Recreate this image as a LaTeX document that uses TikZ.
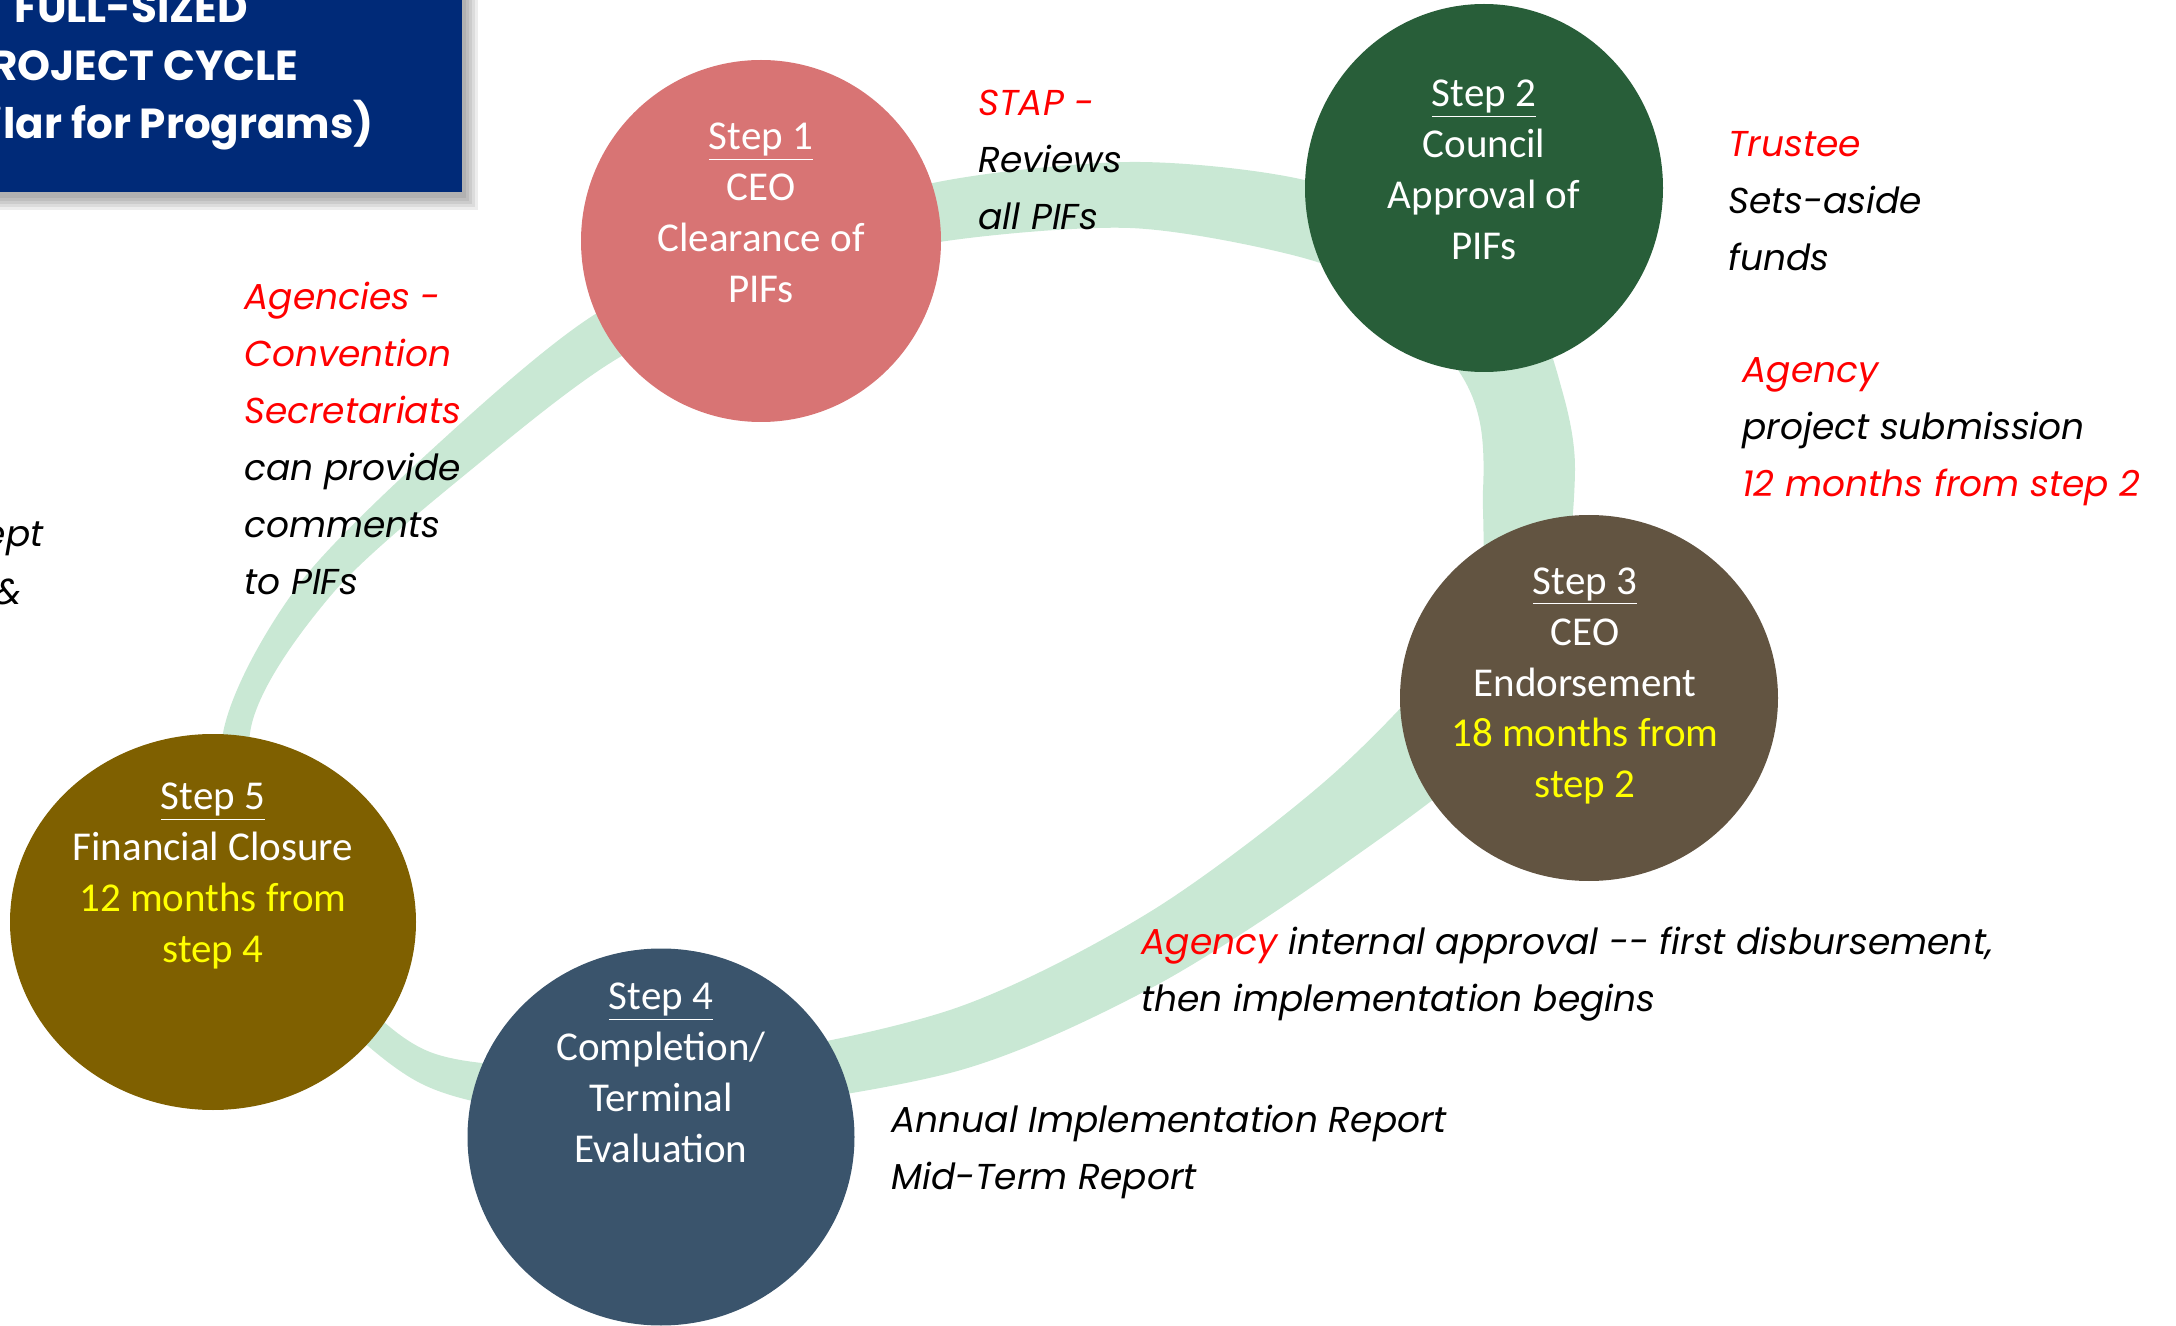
\documentclass[tikz,border=0pt]{standalone}
\usepackage{fontspec}
\setmainfont{Carlito}
\newfontfamily\notefont{Poppins}
\usetikzlibrary{shapes.geometric}
\definecolor{ringgreen}{RGB}{201,232,212}
\definecolor{stepone}{RGB}{216,116,116}
\definecolor{steptwo}{RGB}{40,94,57}
\definecolor{stepthree}{RGB}{98,84,65}
\definecolor{stepfour}{RGB}{58,84,108}
\definecolor{stepfive}{RGB}{127,96,0}
\definecolor{titleblue}{RGB}{0,42,120}
\definecolor{notered}{RGB}{255,0,0}
\definecolor{noteyellow}{RGB}{255,255,0}
\begin{document}
\begin{tikzpicture}[x=0.5pt, y=-0.5pt,
    stepcirc/.style={ellipse, inner sep=0pt},
    steptext/.style={align=center, inner sep=0pt, text=white, font=\fontsize{20.5}{25.5}\selectfont},
    note/.style={align=left, anchor=north west, inner sep=0pt, font=\notefont\itshape\fontsize{18}{28.5}\selectfont},
    titlebox/.style={fill=titleblue, text=white, align=center, inner sep=0pt, font=\notefont\bfseries\fontsize{21}{29}\selectfont}]
    \path[use as bounding box] (0,0) rectangle (2176,1326);
    \clip (0,0) rectangle (2176,1326);
    % Title
    \foreach \b in {0,3,...,12}
      \fill[black, opacity=0.07] (-200,-62) rectangle (466+\b,198+\b);
    \fill[titleblue] (-200,-62) rectangle (462,192);
    \node (title) [titlebox, fill=none] at (131,71) {FULL-SIZED\\PROJECT CYCLE\\(Similar for Programs)};
    % Ring
    \fill[ringgreen, even odd rule]
      plot[smooth cycle] coordinates {(597,313) (760,240) (933,183) (1130,162) (1300,179) (1440,230) (1530,310) (1562,390) (1575,470) (1560,600) (1500,740) (1340,867) (1153,987) (950,1073) (660,1115) (420,1083) (240,900) (223,733) (300,583) (450,433)}
      plot[smooth cycle] coordinates {(620,357) (780,285) (933,243) (1130,228) (1300,257) (1400,300) (1460,373) (1480,423) (1483,490) (1470,620) (1340,768) (1153,910) (950,1010) (700,1060) (430,1052) (290,900) (250,733) (333,593) (483,460)};
    % Steps
    \node (step1) [stepcirc, fill=stepone, minimum width=180pt, minimum height=181pt] at (761,241) {};
    \node (step2) [stepcirc, fill=steptwo, minimum width=179pt, minimum height=184pt] at (1484,188) {};
    \node (step3) [stepcirc, fill=stepthree, minimum width=189pt, minimum height=183pt] at (1589,698) {};
    \node (step4) [stepcirc, fill=stepfour, minimum width=193.5pt, minimum height=188.5pt] at (661,1137) {};
    \node (step5) [stepcirc, fill=stepfive, minimum width=203pt, minimum height=188pt] at (213,922) {};
    \node (step1text) [steptext] at ([yshift=14pt]step1.center) {\underline{Step 1}\\CEO\\Clearance of\\PIFs};
    \node (step2text) [steptext] at ([yshift=9pt]step2.center) {\underline{Step 2}\\Council\\Approval of\\PIFs};
    \node (step3text) [steptext] at ([xshift=-2pt,yshift=6pt]step3.center) {\underline{Step 3}\\CEO\\Endorsement\\\textcolor{noteyellow}{18 months from}\\\textcolor{noteyellow}{step 2}};
    \node (step4text) [steptext] at ([yshift=32pt]step4.center) {\underline{Step 4}\\Completion/\\Terminal\\Evaluation};
    \node (step5text) [steptext] at ([yshift=23pt]step5.center) {\underline{Step 5}\\Financial Closure\\\textcolor{noteyellow}{12 months from}\\\textcolor{noteyellow}{step 4}};
    % Notes
    \node (stap) [note] at (978,90) {\textcolor{notered}{STAP -}\\Reviews\\all PIFs};
    \node (trustee) [note] at (1728,131) {\textcolor{notered}{Trustee}\\Sets-aside\\funds};
    \node (submission) [note] at (1742,357) {\textcolor{notered}{Agency}\\project submission\\\textcolor{notered}{12 months from step 2}};
    \node (secretariats) [note] at (244,282) {\textcolor{notered}{Agencies -}\\\textcolor{notered}{Convention}\\\textcolor{notered}{Secretariats}\\can provide\\comments\\to PIFs};
    \node (concept) [note, anchor=base east] at (44,547) {Concept};
    \node (amp) [note, anchor=base east] at (22,605) {\&};
    \node (approval) [note] at (1141,927) {\textcolor{notered}{Agency} internal approval \mbox{-}\mbox{-} first disbursement,\\then implementation begins};
    \node (reports) [note] at (891,1105) {Annual Implementation Report\\Mid-Term Report};
  \end{tikzpicture}
\end{document}
